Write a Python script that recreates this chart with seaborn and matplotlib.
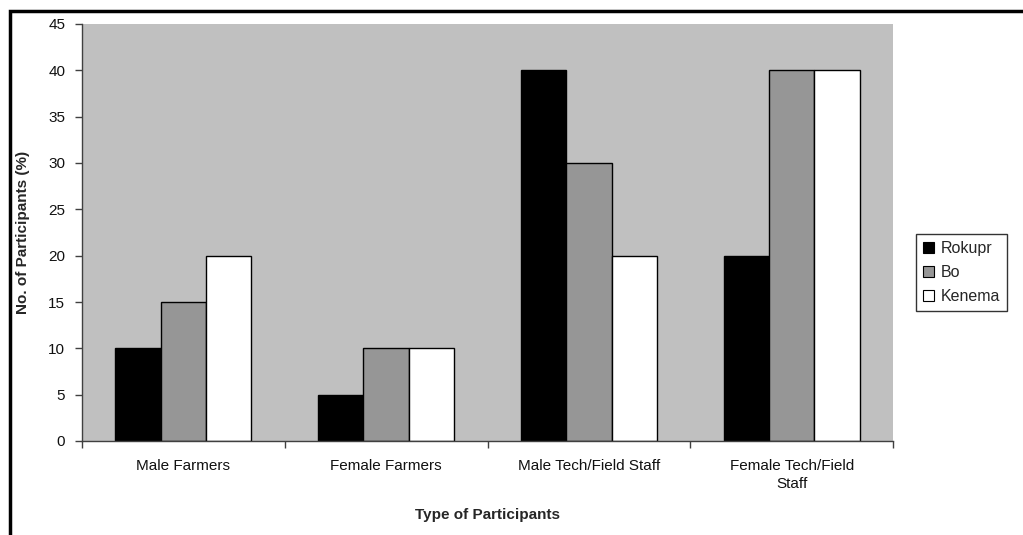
import matplotlib
matplotlib.use("Agg")
import matplotlib.pyplot as plt
import matplotlib.patches as mpatches
from matplotlib.ticker import FixedLocator, NullFormatter
import seaborn as sns
import pandas as pd

categories = ["Male Farmers", "Female Farmers", "Male Tech/Field Staff", "Female Tech/Field\nStaff"]
rokupr = [10, 5, 40, 20]
bo = [15, 10, 30, 40]
kenema = [20, 10, 20, 40]
sites = ["Rokupr", "Bo", "Kenema"]
colors = ["#000000", "#969696", "#FFFFFF"]

df = pd.DataFrame({
    "Type": categories * 3,
    "Site": [s for s in sites for _ in categories],
    "Value": rokupr + bo + kenema,
})

sns.set_style("white")
plt.rcParams["font.family"] = ["Liberation Sans", "DejaVu Sans"]

fig = plt.figure(figsize=(10.23, 5.35), dpi=100)
W, H = 1023, 535
x0, x1, ytop, ybot = 82, 893, 24, 441
ax = fig.add_axes([x0 / W, 1 - ybot / H, (x1 - x0) / W, (ybot - ytop) / H])
ax.set_facecolor("#C0C0C0")

sns.barplot(data=df, x="Type", y="Value", hue="Site", hue_order=sites,
            palette=colors, width=0.67, edgecolor="black", linewidth=1.0,
            saturation=1, ax=ax, legend=False, errorbar=None)

ax.set_ylim(0, 45)
ax.set_xlim(-0.5, len(categories) - 0.5)
ax.set_yticks(range(0, 50, 5))
ax.tick_params(axis="y", direction="out", length=5, width=1, color="#404040",
               labelsize=11, pad=7, left=True, labelcolor="#111111")

# category boundaries as tick marks, labels centered between them
ax.xaxis.set_major_locator(FixedLocator([i - 0.5 for i in range(len(categories) + 1)]))
ax.xaxis.set_major_formatter(NullFormatter())
ax.xaxis.set_minor_locator(FixedLocator(list(range(len(categories)))))
ax.set_xticklabels(categories, minor=True)
ax.tick_params(axis="x", which="major", direction="out", length=5, width=1,
               color="#404040", bottom=True)
ax.tick_params(axis="x", which="minor", length=0, labelsize=11, pad=13,
               labelcolor="#111111")
for lbl in ax.get_xticklabels(minor=True):
    lbl.set_multialignment("center")
    lbl.set_linespacing(1.35)

for side in ["top", "right"]:
    ax.spines[side].set_visible(False)
for side in ["left", "bottom"]:
    ax.spines[side].set_color("#404040")
    ax.spines[side].set_linewidth(1.0)

ax.set_xlabel("Type of Participants", fontsize=11, fontweight="bold")
ax.set_ylabel("No. of Participants (%)", fontsize=11, fontweight="bold")
ax.xaxis.set_label_coords(0.5, (ybot - 515) / (ybot - ytop), transform=ax.transAxes)
ax.xaxis.label.set_va("center")
ax.yaxis.set_label_coords((23 - x0) / (x1 - x0), 0.5, transform=ax.transAxes)
ax.yaxis.label.set_va("center")

handles = [mpatches.Patch(facecolor=c, edgecolor="black", linewidth=0.8, label=s)
           for s, c in zip(sites, colors)]
leg = fig.legend(handles=handles, loc="upper left",
                 bbox_to_anchor=(916 / W, 1 - 234 / H), frameon=True,
                 fontsize=11.5, handlelength=0.7, handleheight=0.7,
                 handletextpad=0.4, borderpad=0.45, labelspacing=0.55,
                 borderaxespad=0, fancybox=False)
leg.get_frame().set_edgecolor("black")
leg.get_frame().set_linewidth(1.0)

# outer chart border (open on the right and bottom edges)
border = mpatches.Rectangle((10 / W, -0.05), 1.1, (1 - 11 / H) + 0.05,
                            transform=fig.transFigure, fill=False,
                            edgecolor="black", linewidth=2.5, clip_on=False)
fig.patches.append(border)

fig.savefig("out.png", dpi=100)
